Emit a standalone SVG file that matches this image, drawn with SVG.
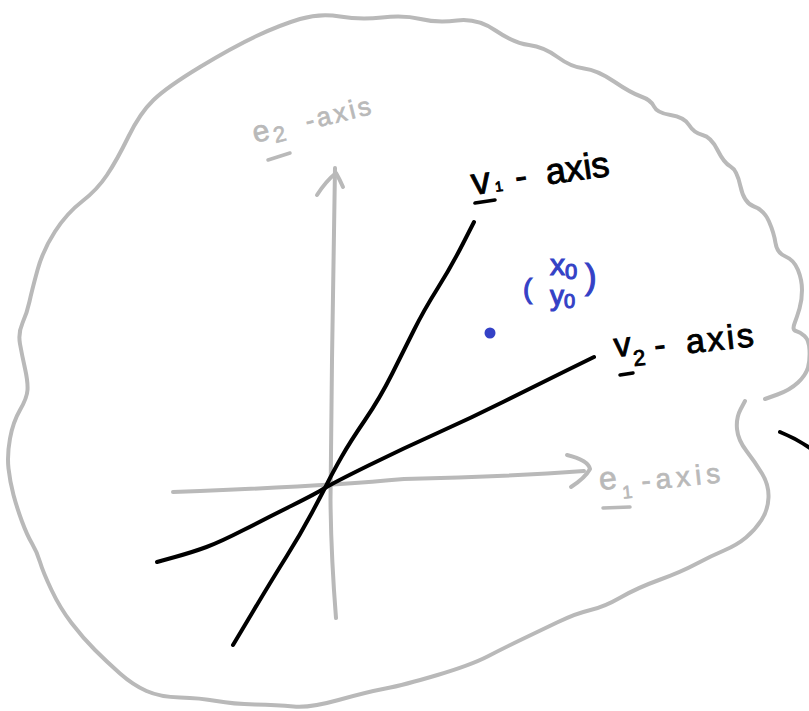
<svg xmlns="http://www.w3.org/2000/svg" width="809" height="711" viewBox="0 0 809 711">
<style>
.g{fill:none;stroke:#b9b9b9;stroke-width:4;stroke-linecap:round;stroke-linejoin:round}
.k{fill:none;stroke:#000;stroke-width:4;stroke-linecap:round;stroke-linejoin:round}
.gt{fill:#b9b9b9;stroke:#b9b9b9;stroke-width:0.7;font-family:"Liberation Sans",Arial,sans-serif}
.kt{fill:#000;stroke:#000;stroke-width:0.9;font-family:"Liberation Sans",Arial,sans-serif}
.bt{fill:#3441c6;stroke:#3441c6;stroke-width:1.1;font-family:"Liberation Sans",Arial,sans-serif}
.ul{stroke-width:3.5}
</style>
<rect width="809" height="711" fill="#fff"/>
<g id="region">
<path class="g" d="M745,401 L740.5,409.5 Q736,418 737,429 Q738,440 746.5,451 Q755,462 762,473.5 Q769,485 768.5,497.5 Q768,510 761.5,520 Q755,530 746,537.5 Q737,545 724,550.5 Q711,556 696,564 Q681,572 659,580 Q637,588 620.5,597.5 Q604,607 590.5,610 Q577,613 557,622.5 Q537,632 520.5,640 Q504,648 487.5,656.5 Q471,665 437.5,675 Q404,685 385.5,688.5 Q367,692 338.5,700 Q310,708 293.5,706.5 Q277,705 255,704.5 Q233,704 216.5,701 Q200,698 180,697.5 Q160,697 146.5,691 Q133,685 120,673.5 Q107,662 95,650 Q83,638 71.5,623 Q60,608 51.5,590 Q43,572 40,562 Q37,552 32,543.5 Q27,535 22,521.5 Q17,508 13.5,495 Q10,482 8.5,468.5 Q7,455 10,438.5 Q13,422 20,410 Q27,398 27.5,390 Q28,382 25,368.5 Q22,355 20,344 Q18,333 22.5,323 Q27,313 29.5,301.5 Q32,290 37.5,270 Q43,250 55,231.5 Q67,213 82,201.5 Q97,190 107,175 Q117,160 128.5,136.5 Q140,113 153.5,100 Q167,87 200,67 Q233,47 256.5,36 Q280,25 300,19 Q320,13 340,16.5 Q360,20 382,17.5 Q404,15 420.5,19 Q437,23 457,20.5 Q477,18 495.5,30.5 Q514,43 529,45 Q544,47 557.5,57 Q571,67 584,68.5 Q597,70 614,81.5 Q631,93 641,96.5 Q651,100 654,106.5 Q657,113 670.5,115 Q684,117 689,125 Q694,133 702.5,135 Q711,137 717.5,150 Q724,163 730.5,166.5 Q737,170 740.5,186.5 Q744,203 754,206.5 Q764,210 769,221.5 Q774,233 775.5,243 Q777,253 785.5,256.5 Q794,260 798,270 Q802,280 802,290 Q802,300 799.5,308.5 Q797,317 794.5,323.5 Q792,330 796,331 Q800,332 804.5,336 Q809,340 809.5,350 Q810,360 808,367.5 Q806,375 798,382.5 Q790,390 777.5,394.5 L765,399"/>
</g>
<g id="connectors">
<g id="e2-axis-line">
<path class="g" d="M336,618 Q331,555 330.5,500 Q331,440 332,360 L335,168"/>
<path class="g" d="M317,195 Q326,181 336,173 Q340,180 343,187"/>
</g>
<g id="e1-axis-line">
<path class="g" d="M173,492 L200,491 Q327,486 404,479 Q504,477 584,471"/>
<path class="g" d="M567,455 Q588,460 590,469 Q585,478 571,487"/>
</g>
<path id="v1-axis-line" class="k" d="M474,222 L462.5,244.5 Q451,267 437.5,288.5 Q424,310 414,330 Q404,350 392,374 Q380,398 365,420 Q350,442 341.5,457 Q333,472 328,482 Q323,492 311.5,513.5 Q300,535 286.5,556.5 Q273,578 253,611.5 L233,645"/>
<path id="v2-axis-line" class="k" d="M157,562 L175,557 Q193,552 206.5,547 Q220,542 243.5,530 Q267,518 292,505.5 Q317,493 325,488 Q333,483 368.5,465.5 Q404,448 437.5,433 Q471,418 504,401.5 Q537,385 565.5,371 L594,357"/>
<path id="edge-stroke" class="k" d="M780,432 Q795,438 810,448"/>
</g>
<g id="label-e2">
<text class="gt" transform="translate(255,143) rotate(-14)"><tspan x="0" font-size="30">e</tspan><tspan x="20" dy="5" font-size="22">2</tspan><tspan x="54" dy="-5" font-size="26" letter-spacing="3">-axis</tspan></text>
<line class="g ul" x1="268" y1="160" x2="290" y2="153"/>
</g>
<g id="label-e1">
<text class="gt" transform="translate(600,490) rotate(-6)"><tspan x="0" font-size="32">e</tspan><tspan x="22" dy="11" font-size="18">1</tspan><tspan x="42" dy="-6" font-size="28" letter-spacing="5">-axis</tspan></text>
<line class="g ul" x1="603" y1="508" x2="630" y2="507"/>
</g>
<g id="label-v1">
<text class="kt" transform="translate(473,195) rotate(-8)"><tspan x="0" font-size="38">v</tspan><tspan x="23" font-size="14">1</tspan><tspan x="44" font-size="36">-</tspan><tspan x="75" font-size="36">axis</tspan></text>
<line class="k ul" x1="475" y1="203" x2="495" y2="200"/>
</g>
<g id="label-v2">
<text class="kt" transform="translate(615,357) rotate(-6)"><tspan x="0" font-size="34">v</tspan><tspan x="18" dy="11" font-size="22">2</tspan><tspan x="40" dy="-7" font-size="34">-</tspan><tspan x="72" font-size="34" letter-spacing="2.5">axis</tspan></text>
<line class="k ul" x1="620" y1="375" x2="633" y2="373"/>
</g>
<g id="point-x0y0">
<circle cx="490" cy="333" r="5.5" fill="#3441c6"/>
<text class="bt" x="523" y="298" font-size="28">(</text>
<text class="bt" font-size="30"><tspan x="550" y="275">x</tspan><tspan font-size="22" dy="4">0</tspan><tspan x="550" y="305" font-size="28">y</tspan><tspan font-size="20" dy="3">0</tspan></text>
<text class="bt" x="585" y="289" font-size="35">)</text>
</g>
</svg>
